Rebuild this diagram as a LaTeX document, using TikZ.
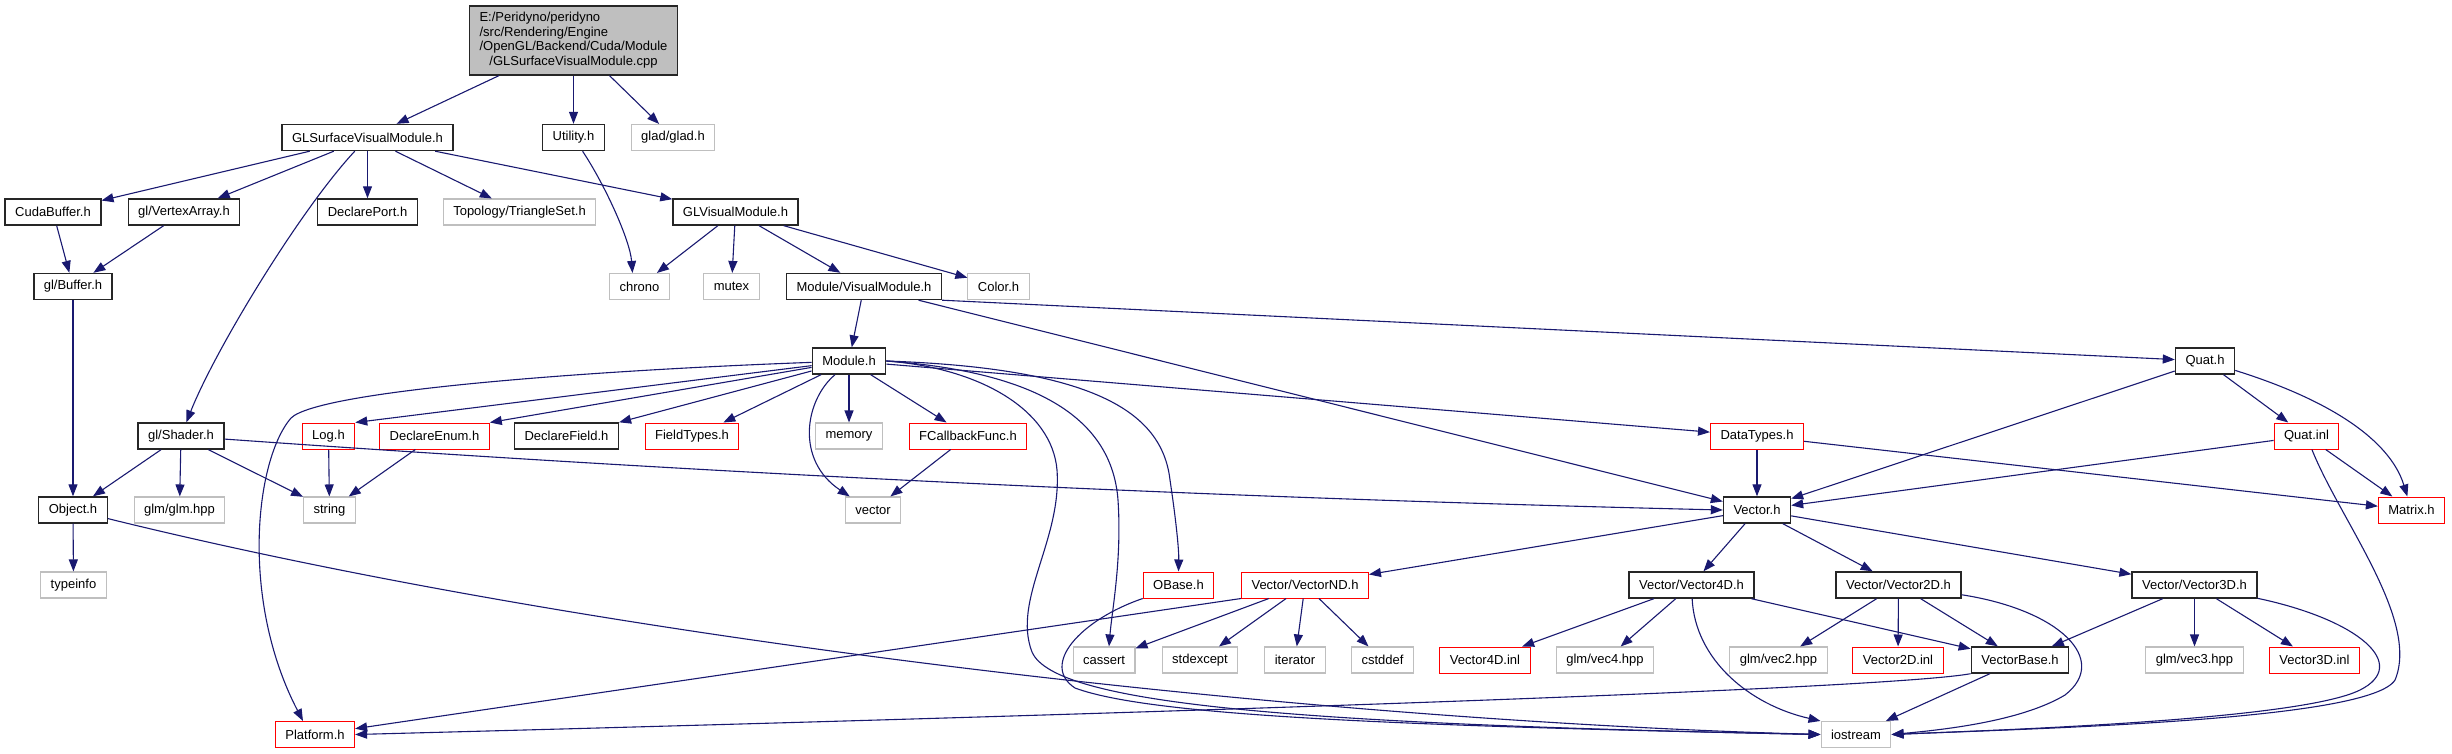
\documentclass[tikz,border=0pt]{standalone}
\usepackage{fontspec}
\setmainfont{Liberation Sans}
\usetikzlibrary{arrows.meta}
\definecolor{azulosc}{HTML}{191970}
\definecolor{grisb}{HTML}{BFBFBF}

\begin{document}
\begin{tikzpicture}[x=1pt, y=-1pt,
        archivo/.style={draw=black!85, line width=1.4pt, fill=white, font=\fontsize{13}{14.7}\selectfont, inner xsep=10pt, inner ysep=0pt, minimum height=26pt},
        externo/.style={archivo, draw=grisb, line width=1.1pt},
        sindoc/.style={archivo, draw=red, line width=1pt},
        raiz/.style={archivo, fill=grisb, inner ysep=5pt},
        flecha/.style={-{Triangle[length=12pt,width=9pt]}, draw=azulosc, line width=1.1pt}
    ]
    \useasboundingbox (0,0) rectangle (2452,753);

    % fila 0 y 1
    \node (cpp) [raiz] at (573.5,40.5) {\begin{tabular}{@{}l@{}}E:/Peridyno/peridyno\\/src/Rendering/Engine\\/OpenGL/Backend/Cuda/Module\\\multicolumn{1}{@{}c@{}}{/GLSurfaceVisualModule.cpp}\end{tabular}};
    \node (gsvm) [archivo] at (367.5,137.5) {GLSurfaceVisualModule.h};
    \node (utility) [archivo] at (573.5,137.5) {Utility.h};
    \node (glad) [externo] at (673,137.5) {glad/glad.h};

    % fila 2
    \node (cudabuf) [archivo] at (53,212) {CudaBuffer.h};
    \node (vertarr) [archivo] at (184,212) {gl/VertexArray.h};
    \node (declport) [archivo] at (367.5,212) {DeclarePort.h};
    \node (triset) [externo] at (519.5,212) {Topology/TriangleSet.h};
    \node (glvm) [archivo] at (735.5,212) {GLVisualModule.h};

    % fila 3
    \node (glbuf) [archivo] at (73,286.5) {gl/Buffer.h};
    \node (chrono) [externo] at (639.5,286.5) {chrono};
    \node (mutex) [externo] at (731.5,286.5) {mutex};
    \node (visual) [archivo] at (864,286.5) {Module/VisualModule.h};
    \node (color) [externo] at (998.5,286.5) {Color.h};

    % fila 4
    \node (module) [archivo] at (849,361) {Module.h};
    \node (quat) [archivo] at (2205,361) {Quat.h};

    % fila 5
    \node (shader) [archivo] at (181,436) {gl/Shader.h};
    \node (log) [sindoc] at (328.5,436) {Log.h};
    \node (declenum) [sindoc] at (434.5,436) {DeclareEnum.h};
    \node (declfield) [archivo] at (566.5,436) {DeclareField.h};
    \node (fieldtypes) [sindoc] at (692,436) {FieldTypes.h};
    \node (memory) [externo] at (849,436) {memory};
    \node (fcallback) [sindoc] at (968,436) {FCallbackFunc.h};
    \node (datatypes) [sindoc] at (1757,436) {DataTypes.h};
    \node (quatinl) [sindoc] at (2306.5,436) {Quat.inl};

    % fila 6
    \node (object) [archivo] at (73,510) {Object.h};
    \node (glm) [externo] at (179.5,510) {glm/glm.hpp};
    \node (string) [externo] at (329.5,510) {string};
    \node (vector) [externo] at (873,510) {vector};
    \node (vec) [archivo] at (1757,510) {Vector.h};
    \node (matrix) [sindoc] at (2411.5,510) {Matrix.h};

    % fila 7
    \node (typeinfo) [externo] at (73.5,585) {typeinfo};
    \node (obase) [sindoc] at (1178.5,585) {OBase.h};
    \node (vecnd) [sindoc] at (1305,585) {Vector/VectorND.h};
    \node (vec4d) [archivo] at (1691.5,585) {Vector/Vector4D.h};
    \node (vec2d) [archivo] at (1898.5,585) {Vector/Vector2D.h};
    \node (vec3d) [archivo] at (2194.5,585) {Vector/Vector3D.h};

    % fila 8
    \node (cassert) [externo] at (1104,660) {cassert};
    \node (stdexcept) [externo] at (1200,660) {stdexcept};
    \node (iterator) [externo] at (1295,660) {iterator};
    \node (cstddef) [externo] at (1382.5,660) {cstddef};
    \node (vec4inl) [sindoc] at (1485,660) {Vector4D.inl};
    \node (glmvec4) [externo] at (1605,660) {glm/vec4.hpp};
    \node (glmvec2) [externo] at (1778.5,660) {glm/vec2.hpp};
    \node (vec2inl) [sindoc] at (1898,660) {Vector2D.inl};
    \node (vecbase) [archivo] at (2020,660) {VectorBase.h};
    \node (glmvec3) [externo] at (2194.5,660) {glm/vec3.hpp};
    \node (vec3inl) [sindoc] at (2314.5,660) {Vector3D.inl};

    % fila 9
    \node (platform) [sindoc] at (315,734.5) {Platform.h};
    \node (iostream) [externo] at (1856,734.5) {iostream};

    % includes
    \draw [flecha] (cpp) -- (gsvm);
    \draw [flecha] (cpp) -- (utility);
    \draw [flecha] (cpp) -- (glad);
    \draw [flecha] (gsvm) -- (cudabuf);
    \draw [flecha] (gsvm) -- (vertarr);
    \draw [flecha] (gsvm) .. controls (300,210) and (215,350) .. (shader);
    \draw [flecha] (gsvm) -- (declport);
    \draw [flecha] (gsvm) -- (triset);
    \draw [flecha] (gsvm) -- (glvm);
    \draw [flecha] (utility) .. controls (605,185) and (630,240) .. ([xshift=-7pt]chrono.north);
    \draw [flecha] (cudabuf) -- (glbuf);
    \draw [flecha] (vertarr) -- (glbuf);
    \draw [flecha] (glbuf) -- (object);
    \draw [flecha] (glvm) -- (chrono);
    \draw [flecha] (glvm) -- (mutex);
    \draw [flecha] (glvm) -- (visual);
    \draw [flecha] (glvm) -- (color);
    \draw [flecha] (visual) -- (module);
    \draw [flecha] (visual) -- (vec);
    \draw [flecha] (visual.south east) -- (quat);

    \draw [flecha] (module) .. controls (600,370) and (320,390) .. (291,418) .. controls (255,460) and (240,600) .. ([xshift=-12pt]platform.north);
    \draw [flecha] (module) -- (log.north east);
    \draw [flecha] (module) -- (declenum.north east);
    \draw [flecha] (module) -- (declfield.north east);
    \draw [flecha] (module) -- ([xshift=-16pt]fieldtypes.north east);
    \draw [flecha] (module) -- (memory);
    \draw [flecha] ([xshift=-14pt]module.south) .. controls (805,400) and (795,460) .. ([xshift=5pt]vector.north west);
    \draw [flecha] (module) -- (fcallback);
    \draw [flecha] (module.east) .. controls (1040,372) and (1112,420) .. (1118,500) .. controls (1122,560) and (1112,610) .. ([xshift=5pt]cassert.north);
    \draw [flecha] (module.east) .. controls (1090,368) and (1162,410) .. (1170,480) .. controls (1176,520) and (1179,550) .. (obase.north);
    \draw [flecha] (module.east) .. controls (980,368) and (1052,410) .. (1057,470) .. controls (1062,540) and (1012,600) .. (1032,652) .. controls (1055,705) and (1300,724) .. (iostream.west);
    \draw [flecha] (module) -- (datatypes);

    \draw [flecha] (shader) -- (object);
    \draw [flecha] (shader) -- (glm);
    \draw [flecha] (shader) -- (string);
    \draw [flecha] (shader) .. controls (800,480) and (1300,500) .. (vec.west);
    \draw [flecha] (log) -- (string);
    \draw [flecha] (declenum) -- (string);
    \draw [flecha] (fcallback) -- (vector);
    \draw [flecha] (object) -- (typeinfo);
    \draw [flecha] (object) .. controls (600,640) and (1300,720) .. (iostream.west);
    \draw [flecha] (obase.south west) .. controls (1080,620) and (1040,665) .. (1075,688) .. controls (1150,716) and (1400,726) .. (iostream.west);

    \draw [flecha] (datatypes) -- (vec);
    \draw [flecha] (datatypes) -- (matrix);
    \draw [flecha] (quat) -- (vec);
    \draw [flecha] (quat) -- (quatinl);
    \draw [flecha] (quat) .. controls (2330,400) and (2390,440) .. (matrix);
    \draw [flecha] (quatinl) -- (vec);
    \draw [flecha] (quatinl) -- (matrix);
    \draw [flecha] (quatinl) .. controls (2340,520) and (2420,620) .. (2395,680) .. controls (2370,720) and (2050,728) .. (iostream.east);

    \draw [flecha] (vec) -- (vecnd);
    \draw [flecha] (vec) -- (vec4d);
    \draw [flecha] (vec) -- (vec2d);
    \draw [flecha] (vec) -- (vec3d);
    \draw [flecha] (vecnd.south west) -- (platform);
    \draw [flecha] (vecnd) -- (cassert);
    \draw [flecha] (vecnd) -- (stdexcept);
    \draw [flecha] (vecnd) -- (iterator);
    \draw [flecha] (vecnd) -- (cstddef);

    \draw [flecha] (vec4d) -- (vec4inl);
    \draw [flecha] (vec4d) -- (glmvec4);
    \draw [flecha] (vec4d) .. controls (1695,660) and (1750,705) .. (iostream.north west);
    \draw [flecha] (vec4d) -- (vecbase);
    \draw [flecha] (vec2d) -- (glmvec2);
    \draw [flecha] (vec2d) -- (vec2inl);
    \draw [flecha] (vec2d) -- (vecbase);
    \draw [flecha] (vec2d) .. controls (2060,610) and (2110,660) .. (2065,695) .. controls (2020,722) and (1940,730) .. (iostream.east);
    \draw [flecha] (vec3d) -- (vecbase);
    \draw [flecha] (vec3d) -- (glmvec3);
    \draw [flecha] (vec3d) -- (vec3inl);
    \draw [flecha] (vec3d) .. controls (2360,620) and (2410,665) .. (2360,690) .. controls (2300,720) and (2000,730) .. (iostream.east);
    \draw [flecha] (vecbase.south west) .. controls (1880,690) and (1100,715) .. (platform.east);
    \draw [flecha] (vecbase) -- (iostream);
\end{tikzpicture}
\end{document}
